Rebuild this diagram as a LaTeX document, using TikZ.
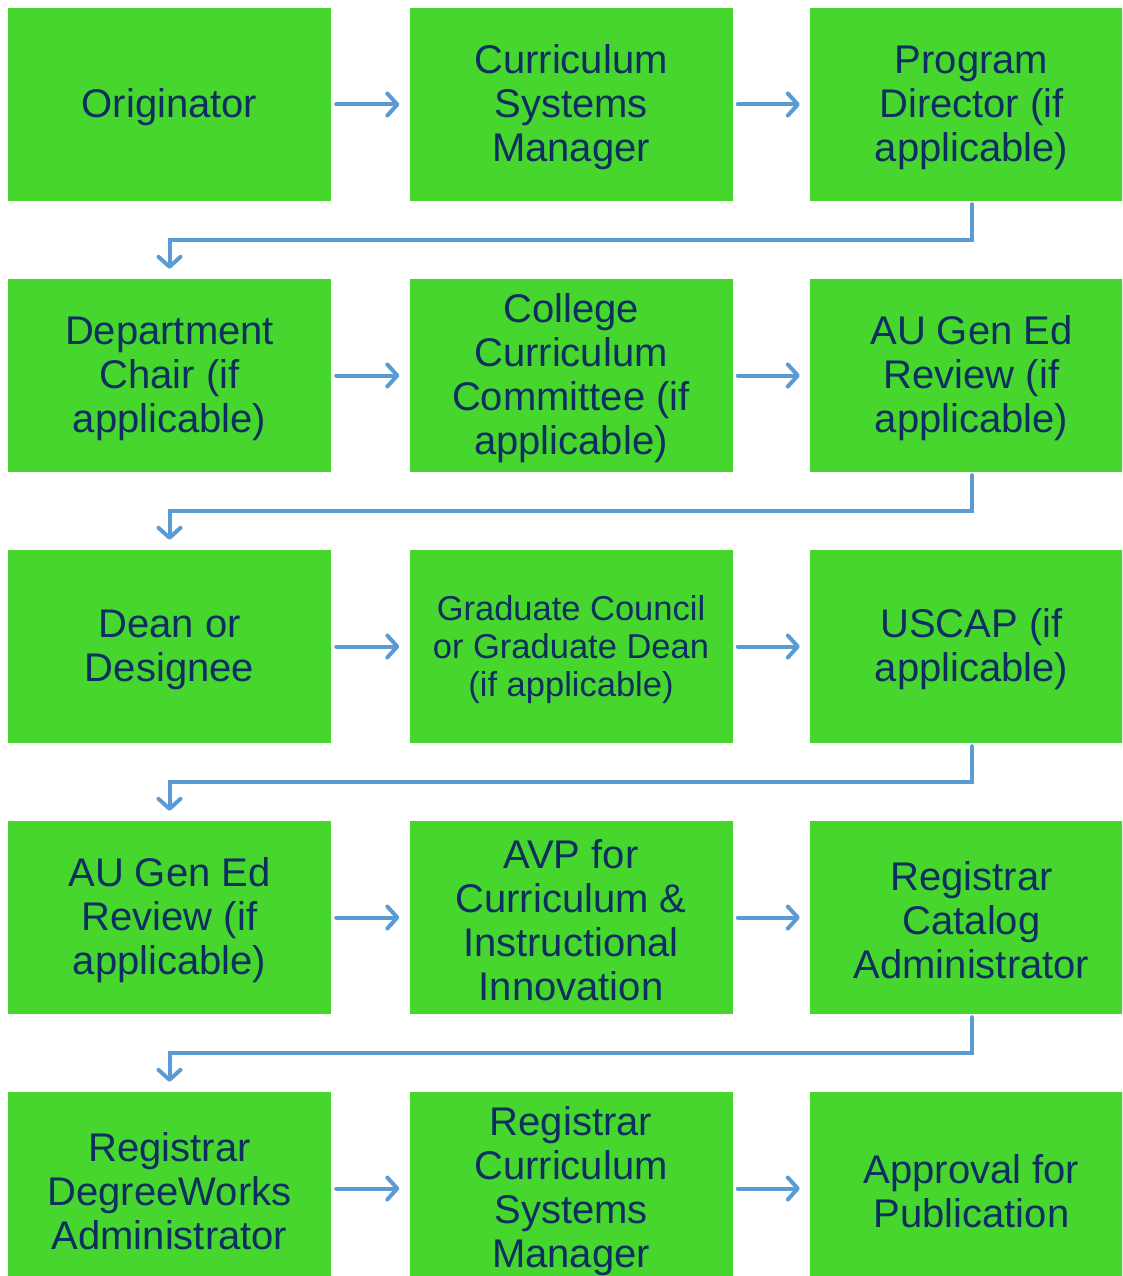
\documentclass[tikz,border=0pt]{standalone}
\usepackage{fontspec}
\setmainfont{Liberation Sans}
\usetikzlibrary{arrows.meta}
\definecolor{boxgreen}{RGB}{70,214,46}
\definecolor{textnavy}{RGB}{12,46,96}
\definecolor{arrowblue}{RGB}{91,155,213}
\tikzset{
  stepbox/.style={draw=none, fill=boxgreen, minimum width=323pt, minimum height=193pt,
    inner sep=0pt},
  lbl/.style={align=center, text=textnavy, inner sep=0pt, yshift=-3pt,
    font=\fontsize{40}{44}\selectfont},
  smalllbl/.style={lbl, font=\fontsize{34.5}{38}\selectfont},
  flow/.style={draw=arrowblue, line width=4pt, line cap=round,
    -{Straight Barb[length=10pt,width=22pt,line width=4pt,round]}},
}
\begin{document}
\begin{tikzpicture}[x=1pt,y=-1pt]
\useasboundingbox (0,0) rectangle (1122,1276);
\clip (0,0) rectangle (1122,1276);
% row 1
\node[stepbox, label={[lbl]center:Originator}] (a1) at (169.5,104.5) {};
\node[stepbox, label={[lbl]center:Curriculum\\Systems\\Manager}] (a2) at (571,104.5) {};
\node[stepbox, label={[lbl]center:Program\\Director (if\\applicable)}] (a3) at (971.5,104.5) {};
% row 2
\node[stepbox, label={[lbl]center:Department\\Chair (if\\applicable)}] (b1) at (169.5,375.5) {};
\node[stepbox, label={[lbl]center:College\\Curriculum\\Committee (if\\applicable)}] (b2) at (571,375.5) {};
\node[stepbox, label={[lbl]center:AU Gen Ed\\Review (if\\applicable)}] (b3) at (971.5,375.5) {};
% row 3
\node[stepbox, label={[lbl]center:Dean or\\Designee}] (c1) at (169.5,646.5) {};
\node[stepbox, label={[smalllbl]center:Graduate Council\\or Graduate Dean\\(if applicable)}] (c2) at (571,646.5) {};
\node[stepbox, label={[lbl]center:USCAP (if\\applicable)}] (c3) at (971.5,646.5) {};
% row 4
\node[stepbox, label={[lbl]center:AU Gen Ed\\Review (if\\applicable)}] (d1) at (169.5,917.5) {};
\node[stepbox, label={[lbl]center:AVP for\\Curriculum \&\\Instructional\\Innovation}] (d2) at (571,917.5) {};
\node[stepbox, label={[lbl]center:Registrar\\Catalog\\Administrator}] (d3) at (971.5,917.5) {};
% row 5
\node[stepbox, label={[lbl]center:Registrar\\DegreeWorks\\Administrator}] (e1) at (169.5,1188.5) {};
\node[stepbox, label={[lbl]center:Registrar\\Curriculum\\Systems\\Manager}] (e2) at (571,1188.5) {};
\node[stepbox, label={[lbl]center:Approval for\\Publication}] (e3) at (971.5,1188.5) {};
% horizontal arrows
\foreach \r in {a,b,c,d,e}{
  \draw[flow, shorten <=5pt, shorten >=10pt] (\r1.east) -- (\r2.west);
  \draw[flow, shorten <=5pt, shorten >=10pt] (\r2.east) -- (\r3.west);
}
% elbow connectors
\draw[flow, shorten <=3pt, shorten >=10pt] (a3.south) -- ++(0,39) -| (b1.north);
\draw[flow, shorten <=3pt, shorten >=10pt] (b3.south) -- ++(0,39) -| (c1.north);
\draw[flow, shorten <=3pt, shorten >=10pt] (c3.south) -- ++(0,39) -| (d1.north);
\draw[flow, shorten <=3pt, shorten >=10pt] (d3.south) -- ++(0,39) -| (e1.north);
\end{tikzpicture}
\end{document}
